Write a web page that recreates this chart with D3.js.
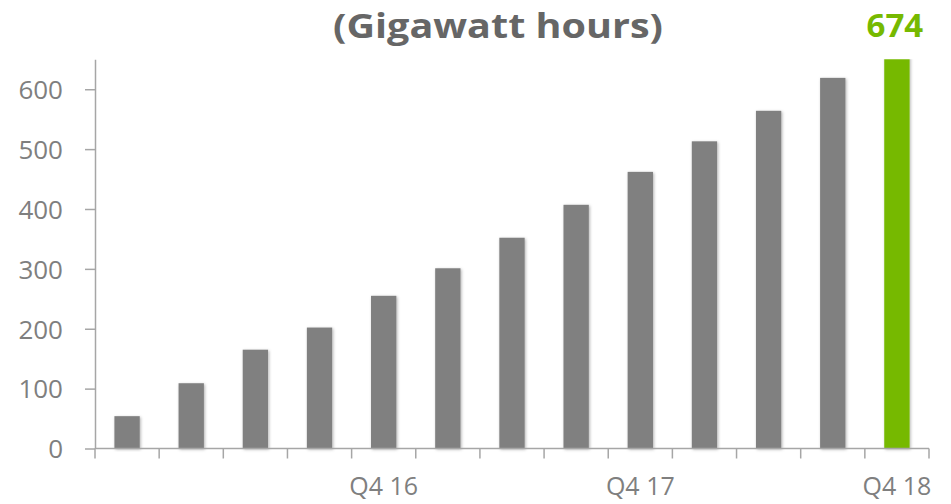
<!DOCTYPE html>
<html>
<head>
<meta charset="utf-8">
<script src="https://cdn.jsdelivr.net/npm/d3@7"></script>
<style>
  html, body { margin: 0; padding: 0; background: #ffffff; }
  svg { display: block; }
</style>
</head>
<body>
<svg id="chart" width="951" height="504"></svg>
<script>
// ---- data ----
const categories = ["Q4 15","Q1 16","Q2 16","Q3 16","Q4 16","Q1 17","Q2 17","Q3 17","Q4 17","Q1 18","Q2 18","Q3 18","Q4 18"];
const values = [54, 109, 165, 202, 255, 301, 352, 407, 462, 513, 564, 619, 674];
const shownXLabels = ["Q4 16", "Q4 17", "Q4 18"];
const yTicks = [0, 100, 200, 300, 400, 500, 600];
const title = "(Gigawatt hours)";
const highlightCategory = "Q4 18";

// ---- layout ----
const W = 951, H = 504;
const plot = { left: 95, right: 929, top: 59.3, bottom: 448.5 };
const yMax = 650;

const svg = d3.select("#chart");

const defs = svg.append("defs");
const f = defs.append("filter").attr("id", "shadow").attr("x", "-30%").attr("y", "-10%").attr("width", "160%").attr("height", "120%");
f.append("feDropShadow").attr("dx", 1).attr("dy", 1).attr("stdDeviation", 1.5).attr("flood-color", "#000").attr("flood-opacity", 0.3);
defs.append("clipPath").attr("id", "plotclip").append("rect")
  .attr("x", plot.left - 10).attr("y", plot.top).attr("width", plot.right - plot.left + 20).attr("height", plot.bottom - plot.top + 5);

const x = d3.scaleBand().domain(categories).range([plot.left, plot.right]).paddingInner(0.605).paddingOuter(0.3025);
const xTickScale = d3.scaleBand().domain(categories).range([plot.left, plot.right]).padding(0);
const y = d3.scaleLinear().domain([0, yMax]).range([plot.bottom, plot.top]);

// bars
svg.append("g").attr("clip-path", "url(#plotclip)")
  .selectAll("rect").data(categories).join("rect")
  .attr("x", d => x(d))
  .attr("width", x.bandwidth())
  .attr("y", (d, i) => y(values[i]))
  .attr("height", (d, i) => y(0) - y(values[i]))
  .attr("fill", d => d === highlightCategory ? "#76b900" : "#808080")
  .attr("filter", "url(#shadow)");

const axisColor = "#a6a6a6";
const labelColor = "#7f7f7f";

// y axis
const yAxis = svg.append("g").attr("transform", `translate(${plot.left},0)`)
  .call(d3.axisLeft(y).tickValues(yTicks).tickSize(10).tickPadding(22).tickSizeOuter(0));
yAxis.select(".domain").attr("stroke", axisColor).attr("stroke-width", 1.5);
yAxis.selectAll(".tick line").attr("stroke", axisColor).attr("stroke-width", 1.5);
yAxis.selectAll(".tick text").attr("fill", labelColor).attr("font-family", "'Open Sans', sans-serif").attr("font-size", 26).attr("dy", "0.36em");

// x axis: ticks at band boundaries
const boundaries = categories.map(c => xTickScale(c)).concat([plot.right]);
const xAxis = svg.append("g");
xAxis.append("line").attr("x1", plot.left).attr("x2", plot.right).attr("y1", y(0)).attr("y2", y(0))
  .attr("stroke", axisColor).attr("stroke-width", 1.5);
xAxis.selectAll("line.tk").data(boundaries).join("line").attr("class", "tk")
  .attr("x1", d => d).attr("x2", d => d).attr("y1", y(0)).attr("y2", y(0) + 10)
  .attr("stroke", axisColor).attr("stroke-width", 1.5);
xAxis.selectAll("text").data(shownXLabels).join("text")
  .attr("x", d => xTickScale(d) + xTickScale.bandwidth() / 2)
  .attr("y", 495)
  .attr("text-anchor", "middle")
  .attr("fill", labelColor)
  .attr("font-family", "'Open Sans', sans-serif")
  .attr("font-size", 25)
  .text(d => d);

// title
svg.append("text")
  .attr("x", 498).attr("y", 38)
  .attr("text-anchor", "middle")
  .attr("fill", "#666666")
  .attr("font-family", "'Open Sans', sans-serif")
  .attr("font-weight", "bold")
  .attr("font-size", 34)
  .attr("textLength", 330)
  .attr("lengthAdjust", "spacingAndGlyphs")
  .text(title);

// value label for highlighted bar
const hi = categories.indexOf(highlightCategory);
svg.append("text")
  .attr("x", x(highlightCategory) + x.bandwidth() / 2 - 2)
  .attr("y", 37)
  .attr("text-anchor", "middle")
  .attr("fill", "#76b900")
  .attr("font-family", "'Open Sans', sans-serif")
  .attr("font-weight", "bold")
  .attr("font-size", 33)
  .text(values[hi]);
</script>
</body>
</html>
